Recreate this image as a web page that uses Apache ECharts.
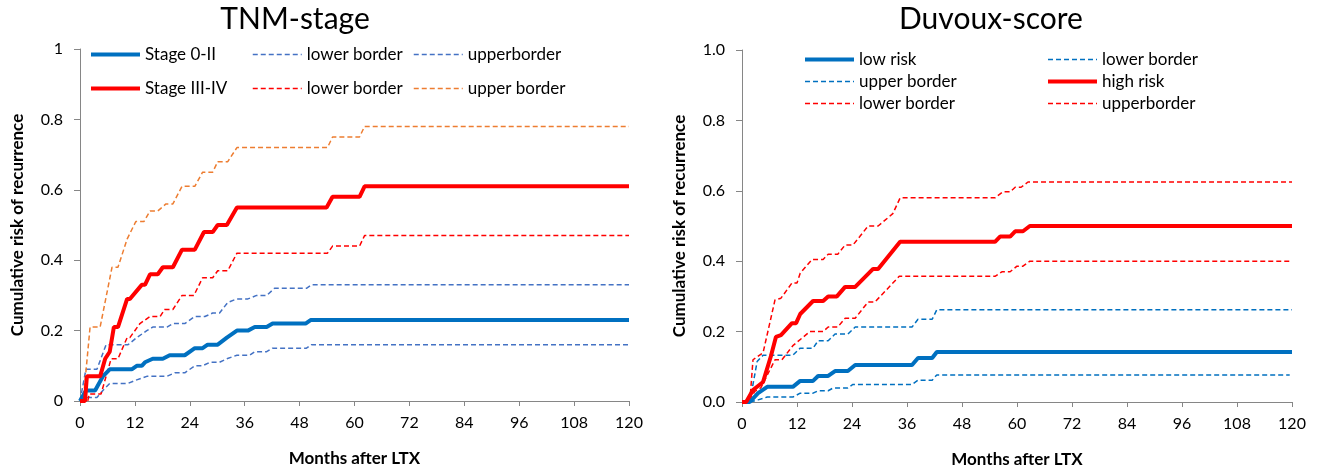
<!DOCTYPE html>
<html>
<head>
<meta charset="utf-8">
<script src="https://cdn.jsdelivr.net/npm/echarts@6/dist/echarts.min.js"></script>
<style>
html,body{margin:0;padding:0;background:#fff;}
#c{width:1320px;height:469px;}
</style>
</head>
<body>
<div id="c"></div>
<script>
// ---- Data (months after LTX, cumulative risk) ----
const xTicks = [0, 12, 24, 36, 48, 60, 72, 84, 96, 108, 120];
const yTicksLeft = ['0', '0.2', '0.4', '0.6', '0.8', '1'];
const yTicksRight = ['0.0', '0.2', '0.4', '0.6', '0.8', '1.0'];

// TNM-stage
const stage0II = [[0,0],[1.3,0.03],[3.3,0.03],[5.0,0.07],[6.5,0.09],[11.3,0.09],[12.4,0.10],[13.5,0.10],[14.2,0.11],[15.9,0.12],[18.1,0.12],[19.6,0.13],[22.9,0.13],[25.1,0.15],[26.8,0.15],[27.9,0.16],[30.1,0.16],[32.1,0.18],[34.3,0.20],[36.7,0.20],[38.2,0.21],[40.8,0.21],[42.1,0.22],[49.3,0.22],[50.4,0.23],[120,0.23]];
const stage0IILower = [[0,0],[1.1,0.01],[3.7,0.01],[5.0,0.03],[6.5,0.05],[10.5,0.05],[12.4,0.06],[14.6,0.07],[19.0,0.07],[20.7,0.08],[22.9,0.08],[25.1,0.10],[26.8,0.10],[28.4,0.11],[30.5,0.11],[32.1,0.12],[34.3,0.13],[37.1,0.13],[38.2,0.14],[40.8,0.14],[42.1,0.15],[49.5,0.15],[50.6,0.16],[120,0.16]];
const stage0IIUpper = [[0,0],[1.3,0.09],[3.7,0.09],[5.7,0.16],[10.5,0.16],[12.4,0.18],[14.6,0.20],[15.9,0.21],[19.0,0.21],[20.3,0.22],[22.9,0.22],[25.1,0.24],[27.3,0.24],[29.0,0.25],[30.5,0.25],[32.3,0.28],[34.3,0.29],[36.7,0.29],[38.6,0.30],[40.8,0.30],[42.5,0.32],[49.5,0.32],[50.6,0.33],[120,0.33]];
const stageIIIIV = [[0,0],[1.1,0],[1.5,0.07],[4.4,0.07],[5.5,0.12],[6.5,0.14],[7.4,0.21],[8.3,0.21],[10.3,0.29],[10.9,0.29],[13.5,0.33],[14.2,0.33],[15.3,0.36],[17.0,0.36],[18.1,0.38],[20.3,0.38],[22.3,0.43],[25.1,0.43],[27.1,0.48],[29.0,0.48],[30.1,0.50],[32.1,0.50],[34.3,0.55],[53.9,0.55],[55.2,0.58],[61.1,0.58],[62.2,0.61],[120,0.61]];
const stageIIIIVLower = [[0,0],[1.7,0],[2.0,0.02],[4.6,0.02],[6.8,0.12],[8.3,0.12],[10.3,0.18],[10.9,0.18],[13.1,0.22],[15.3,0.24],[17.5,0.24],[18.5,0.26],[20.3,0.26],[22.3,0.30],[24.9,0.30],[26.8,0.35],[29.0,0.35],[30.1,0.37],[32.3,0.37],[34.3,0.42],[54.1,0.42],[55.2,0.44],[61.1,0.44],[62.2,0.47],[120,0.47]];
const stageIIIIVUpper = [[0,0],[0.7,0],[2.2,0.21],[4.4,0.21],[7.0,0.38],[8.3,0.38],[10.3,0.46],[12.2,0.51],[14.0,0.51],[15.3,0.54],[17.0,0.54],[18.8,0.56],[20.3,0.56],[22.3,0.61],[25.1,0.61],[26.8,0.65],[29.0,0.65],[30.1,0.68],[32.3,0.68],[34.3,0.72],[54.1,0.72],[55.2,0.75],[61.1,0.75],[62.2,0.78],[120,0.78]];

// Duvoux-score
const lowRisk = [[0,0],[1.7,0],[3.5,0.025],[5.5,0.043],[11.1,0.043],[12.7,0.06],[15.5,0.06],[16.6,0.074],[18.8,0.074],[20.3,0.088],[23.1,0.088],[24.7,0.105],[37.1,0.105],[38.4,0.125],[41.5,0.125],[42.5,0.142],[120,0.142]];
const lowRiskLower = [[0,0],[1.7,0],[3.5,0.006],[5.5,0.014],[11.1,0.014],[12.7,0.025],[15.5,0.025],[16.6,0.032],[18.8,0.032],[19.9,0.04],[23.1,0.04],[24.2,0.05],[37.1,0.05],[38.4,0.062],[41.5,0.062],[42.5,0.077],[119.5,0.077]];
const lowRiskUpper = [[0,0],[1.7,0],[3.3,0.115],[4.6,0.133],[11.1,0.133],[12.7,0.153],[15.5,0.153],[16.6,0.174],[18.8,0.174],[20.3,0.193],[23.1,0.193],[24.7,0.213],[37.1,0.213],[38.4,0.235],[41.5,0.235],[42.5,0.262],[120,0.262]];
const highRisk = [[0,0],[0.9,0],[2.4,0.034],[4.6,0.057],[6.3,0.13],[7.4,0.185],[8.5,0.19],[10.9,0.224],[11.8,0.224],[12.7,0.25],[15.5,0.287],[17.7,0.287],[18.8,0.30],[20.7,0.30],[22.5,0.327],[24.7,0.327],[28.6,0.378],[29.7,0.378],[34.5,0.455],[55.2,0.455],[56.3,0.47],[58.5,0.47],[59.6,0.485],[61.3,0.485],[62.8,0.50],[120,0.50]];
const highRiskLower = [[0,0],[1.3,0],[2.8,0.03],[4.1,0.04],[7.2,0.12],[8.7,0.12],[11.1,0.16],[14.8,0.20],[17.7,0.20],[18.8,0.213],[20.9,0.213],[22.5,0.238],[24.7,0.238],[27.5,0.284],[29.0,0.284],[34.3,0.357],[55.2,0.357],[56.7,0.37],[58.5,0.37],[60.0,0.386],[61.3,0.386],[62.8,0.40],[120,0.40]];
const highRiskUpper = [[0,0],[1.7,0],[2.4,0.12],[4.6,0.14],[7.2,0.29],[8.5,0.295],[10.9,0.338],[12.0,0.338],[12.7,0.366],[15.3,0.405],[17.7,0.405],[18.8,0.42],[20.9,0.42],[22.5,0.446],[24.2,0.446],[25.7,0.47],[27.5,0.50],[29.7,0.50],[32.9,0.535],[34.5,0.58],[55.2,0.58],[56.9,0.597],[58.5,0.597],[59.6,0.61],[60.9,0.61],[62.4,0.625],[120,0.625]];

// Legend display labels (series id -> text)
const labels = {
  s0: 'Stage 0-II', s0l: 'lower border', s0u: 'upperborder',
  s3: 'Stage III-IV', s3l: 'lower border', s3u: 'upper border',
  lr: 'low risk', lrl: 'lower border', lru: 'upper border',
  hr: 'high risk', hrl: 'lower border', hru: 'upperborder'
};

const FONT = 'Lato, "Open Sans", sans-serif';
const BLUE = '#0070C0', BLUE_D = '#4472C4', RED = '#FF0000', ORANGE = '#ED7D31';
const DASH = [5, 3];

function line(name, data, gi, color, solid) {
  return {
    name: name, type: 'line', data: data,
    xAxisIndex: gi, yAxisIndex: gi,
    symbol: 'none', silent: true, animation: false,
    lineStyle: { color: color, width: solid ? 4 : 1.5, type: solid ? 'solid' : DASH },
    itemStyle: { color: color }
  };
}

function xAxis(gi) {
  return {
    type: 'value', gridIndex: gi, min: 0, max: 120, interval: 12,
    name: 'Months after LTX', nameLocation: 'middle', nameGap: 49,
    nameTextStyle: { fontFamily: FONT, fontSize: 17, fontWeight: 'bold', color: '#000' },
    axisLine: { show: true, lineStyle: { color: '#868686', width: 1 } },
    axisTick: { show: true, length: 5, lineStyle: { color: '#868686' } },
    axisLabel: { fontFamily: FONT, fontSize: 16, color: '#000', margin: 14,
      formatter: v => String(xTicks[xTicks.indexOf(v)] ?? v) },
    splitLine: { show: false }
  };
}
function yAxis(gi, ticks) {
  return {
    type: 'value', gridIndex: gi, min: 0, max: 1, interval: 0.2,
    name: 'Cumulative risk of recurrence', nameLocation: 'middle', nameGap: 54,
    nameTextStyle: { fontFamily: FONT, fontSize: 17, fontWeight: 'bold', color: '#000' },
    axisLine: { show: true, lineStyle: { color: '#868686', width: 1 } },
    axisTick: { show: true, length: 6, lineStyle: { color: '#868686' } },
    axisLabel: { fontFamily: FONT, fontSize: 16, color: '#000', margin: 17,
      formatter: v => ticks[Math.round(v / 0.2)] },
    splitLine: { show: false }
  };
}
function legend(left, top, gap, names) {
  return {
    orient: 'vertical', left: left, top: top, itemGap: gap, padding: 0,
    itemWidth: 49, itemHeight: 14, selectedMode: false,
    itemStyle: { opacity: 0 },
    lineStyle: { width: 'inherit' },
    textStyle: { fontFamily: FONT, fontSize: 17, color: '#000' },
    formatter: n => labels[n],
    data: names
  };
}

const chart = echarts.init(document.getElementById('c'), null, { renderer: 'canvas' });
chart.setOption({
  animation: false,
  backgroundColor: '#fff',
  title: [
    { text: 'TNM-stage', left: 295, top: 4, textAlign: 'center', padding: 0,
      textStyle: { fontFamily: FONT, fontSize: 30, fontWeight: 'normal', color: '#000' } },
    { text: 'Duvoux-score', left: 991, top: 4, textAlign: 'center', padding: 0,
      textStyle: { fontFamily: FONT, fontSize: 30, fontWeight: 'normal', color: '#000' } }
  ],
  grid: [
    { left: 80, top: 49, width: 549, height: 352, containLabel: false, outerBoundsMode: 'none' },
    { left: 742, top: 50, width: 550, height: 352, containLabel: false, outerBoundsMode: 'none' }
  ],
  xAxis: [xAxis(0), xAxis(1)],
  yAxis: [yAxis(0, yTicksLeft), yAxis(1, yTicksRight)],
  legend: [
    legend(89, 46, 17, ['s0', 's3']),
    legend(252, 46, 17, ['s0l', 's3l']),
    legend(413, 46, 17, ['s0u', 's3u']),
    legend(803, 51, 5, ['lr', 'lru', 'hrl']),
    legend(1046, 51, 5, ['lrl', 'hr', 'hru'])
  ],
  series: [
    line('s0l', stage0IILower, 0, BLUE_D, false),
    line('s0u', stage0IIUpper, 0, BLUE_D, false),
    line('s3l', stageIIIIVLower, 0, RED, false),
    line('s3u', stageIIIIVUpper, 0, ORANGE, false),
    line('s0', stage0II, 0, BLUE, true),
    line('s3', stageIIIIV, 0, RED, true),
    line('lrl', lowRiskLower, 1, BLUE, false),
    line('lru', lowRiskUpper, 1, BLUE, false),
    line('hrl', highRiskLower, 1, RED, false),
    line('hru', highRiskUpper, 1, RED, false),
    line('lr', lowRisk, 1, BLUE, true),
    line('hr', highRisk, 1, RED, true)
  ]
});
</script>
</body>
</html>
